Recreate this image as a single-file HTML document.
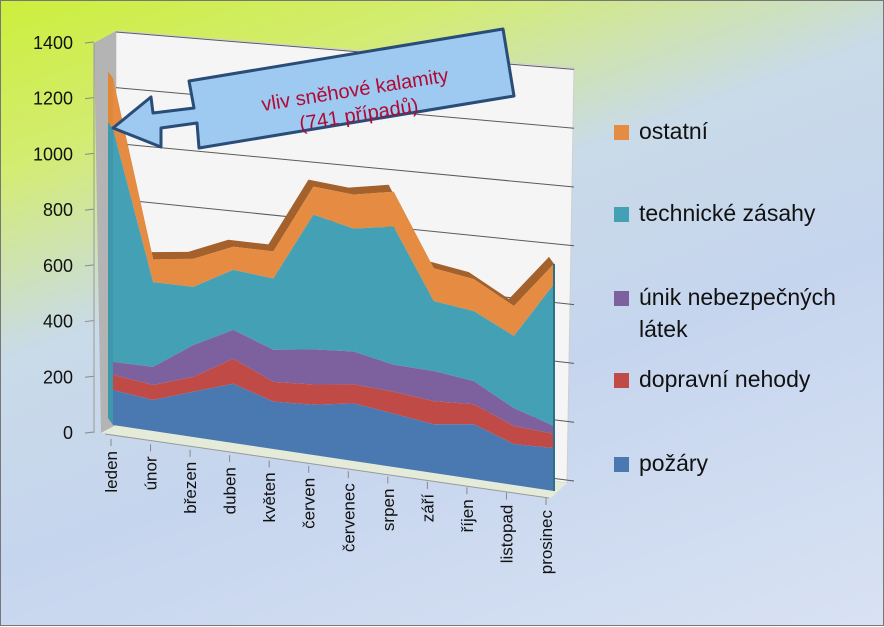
<!DOCTYPE html>
<html><head><meta charset="utf-8"><style>
html,body{margin:0;padding:0}
body{width:884px;height:626px;overflow:hidden;font-family:"Liberation Sans","DejaVu Sans",sans-serif}
#wrap{position:relative;width:882px;height:624px;border:1px solid #777;background:linear-gradient(160deg,#cdee3c 0%,#d3ec72 18%,#c9dae8 38%,#c6d5ee 60%,#d8e2f3 100%)}
svg{position:absolute;left:0;top:0}
</style></head><body>
<div id="wrap">
<svg id="chart" width="884" height="626"></svg>
</div>
<script>
const categories=["leden","únor","březen","duben","květen","červen","červenec","srpen","září","říjen","listopad","prosinec"];
const seriesNames=["požáry","dopravní nehody","únik nebezpečných látek","technické zásahy","ostatní"];
const pozary=[132,116,168,218,173,182,207,190,172,192,142,148];
const dopravni=[57,56,55,92,72,73,68,78,82,70,63,49];
const unik=[49,68,118,106,117,127,118,96,106,81,62,27];
const technicke=[879,317,216,221,260,488,441,492,247,245,251,490];
const ostatni=[190,86,104,85,99,101,122,124,116,112,104,69];
const yTicks=[0,200,400,600,800,1000,1200,1400];
const colors=["#4a78b0","#bf4a46","#7d619f","#44a0b4","#e58b42"];

const NS="http://www.w3.org/2000/svg";
const svg=document.getElementById('chart');
function mk(tag,attrs,parent){const e=document.createElementNS(NS,tag);for(const k in attrs)e.setAttribute(k,attrs[k]);(parent||svg).appendChild(e);return e;}
const n=categories.length;
function xAt(i){return 112+i*(553-112)/(n-1);}
function baseAt(i){return 424+i*(490-424)/(n-1);}
function kAt(i){return 0.265+i*0.025/(n-1);}
function yAt(i,v){return baseAt(i)-v*kAt(i);}
function wallLeftY(v){return 421-v*0.2786;}
function wallRightY(v){return 480-v*0.294;}

let g=mk('path',{d:`M115,30 L573,67 L566,482 L115,424 Z`,fill:'#f5f5f5',stroke:'#cfcfcf'});

g=mk('path',{d:`M93,42 L115,30 L115,424 L100,432 Z`,fill:'#b4b4b4'});

g=mk('path',{d:`M100,432 L115,424 L566,482 L550,497 Z`,fill:'#e4ebd8'});

yTicks.forEach(v=>{
  const gl=mk('line',{x1:115,y1:wallLeftY(v),x2:573,y2:wallRightY(v),stroke:'#5a5a5a','stroke-width':1});
  
  
  const ty=432-v*0.2786;
  const tk=mk('line',{x1:84,y1:ty,x2:93,y2:ty-1,stroke:'#888'});
  
  
  const t=mk('text',{x:72,y:ty+6,'text-anchor':'end','font-size':18,fill:'#111'});
  t.textContent=v;
  
  
});
mk('line',{x1:93,y1:42,x2:93,y2:432,stroke:'#999'});

const layers=[pozary,dopravni,unik,technicke,ostatni];
const cum=[];let prevVals=new Array(n).fill(0);
layers.forEach(arr=>{const c=arr.map((v,i)=>prevVals[i]+v);cum.push(c);prevVals=c;});
const dx=-5,dy=-7;
const topVals=cum[4];
let tp='';for(let i=0;i<n;i++)tp+=(i?'L':'M')+(xAt(i)+dx)+','+(yAt(i,topVals[i])+dy)+' ';
for(let i=n-1;i>=0;i--)tp+='L'+xAt(i)+','+yAt(i,topVals[i])+' ';
g=mk('path',{d:tp+'Z',fill:'#a5612b'});

g=mk('path',{d:`M${xAt(0)+dx},${yAt(0,topVals[0])+dy} L${xAt(0)},${yAt(0,topVals[0])} L${xAt(0)},${yAt(0,cum[3][0])} L${xAt(0)+dx},${yAt(0,cum[3][0])+dy} Z`,fill:'#e08838'});

g=mk('path',{d:`M${xAt(0)+dx},${yAt(0,cum[3][0])+dy} L${xAt(0)},${yAt(0,cum[3][0])} L${xAt(0)},${baseAt(0)} L${xAt(0)+dx},${baseAt(0)+dy} Z`,fill:'#3f97ab'});


const names=['area-pozary','area-dopravni-nehody','area-unik','area-technicke-zasahy','area-ostatni'];
for(let s=4;s>=0;s--){
  let d='';
  for(let i=0;i<n;i++)d+=(i?'L':'M')+xAt(i)+','+yAt(i,cum[s][i])+' ';
  for(let i=n-1;i>=0;i--)d+='L'+xAt(i)+','+(s?yAt(i,cum[s-1][i]):baseAt(i))+' ';
  const p=mk('path',{d:d+'Z',fill:colors[s]});
  
  
}
g=mk('line',{x1:xAt(n-1),y1:yAt(n-1,topVals[n-1]),x2:xAt(n-1),y2:baseAt(n-1),stroke:'#2f6f86','stroke-width':2});


mk('line',{x1:104,y1:433,x2:548,y2:497,stroke:'#999'});
categories.forEach((c,i)=>{
  const x=110+i*(545-110)/(n-1), y=438+i*(497-438)/(n-1);
  const tk=mk('line',{x1:x,y1:y,x2:x,y2:y+7,stroke:'#888'});
  
  
  const t=mk('text',{x:x+6,y:y+12,'text-anchor':'end','font-size':17,fill:'#111',transform:`rotate(-90 ${x+6} ${y+12})`});
  t.textContent=c;
  
  
});

g=mk('path',{d:'M188,80 L502,28 L513,95 L198,147 L196,122 L160,127 L160,146 L112,127 L150,96 L152,112 L193,107 Z',fill:'#9ec9f0',stroke:'#2a4c78','stroke-width':3,'stroke-linejoin':'round'});

const ct=mk('text',{x:350,y:96,'text-anchor':'middle','font-size':20,fill:'#b00a34',transform:'rotate(-9 350 90)'});

const t1=mk('tspan',{x:354,dy:0},ct);t1.textContent='vliv sněhové kalamity';
const t2=mk('tspan',{x:354,dy:25},ct);t2.textContent='(741 případů)';

const legRows=[[4,'ostatní',130],[3,'technické zásahy',212],[2,'únik nebezpečných',296],[1,'dopravní nehody',378],[0,'požáry',462]];
legRows.forEach(r=>{
  const sq=mk('rect',{x:613,y:r[2]-6,width:15,height:15,fill:colors[r[0]]});
  
  
  const t=mk('text',{x:638,y:r[2]+8,'font-size':23,fill:'#111'});
  t.textContent=r[1];
  
  
});
const lt=mk('text',{x:638,y:336,'font-size':23,fill:'#111'});
lt.textContent='látek';


</script>
</body></html>
